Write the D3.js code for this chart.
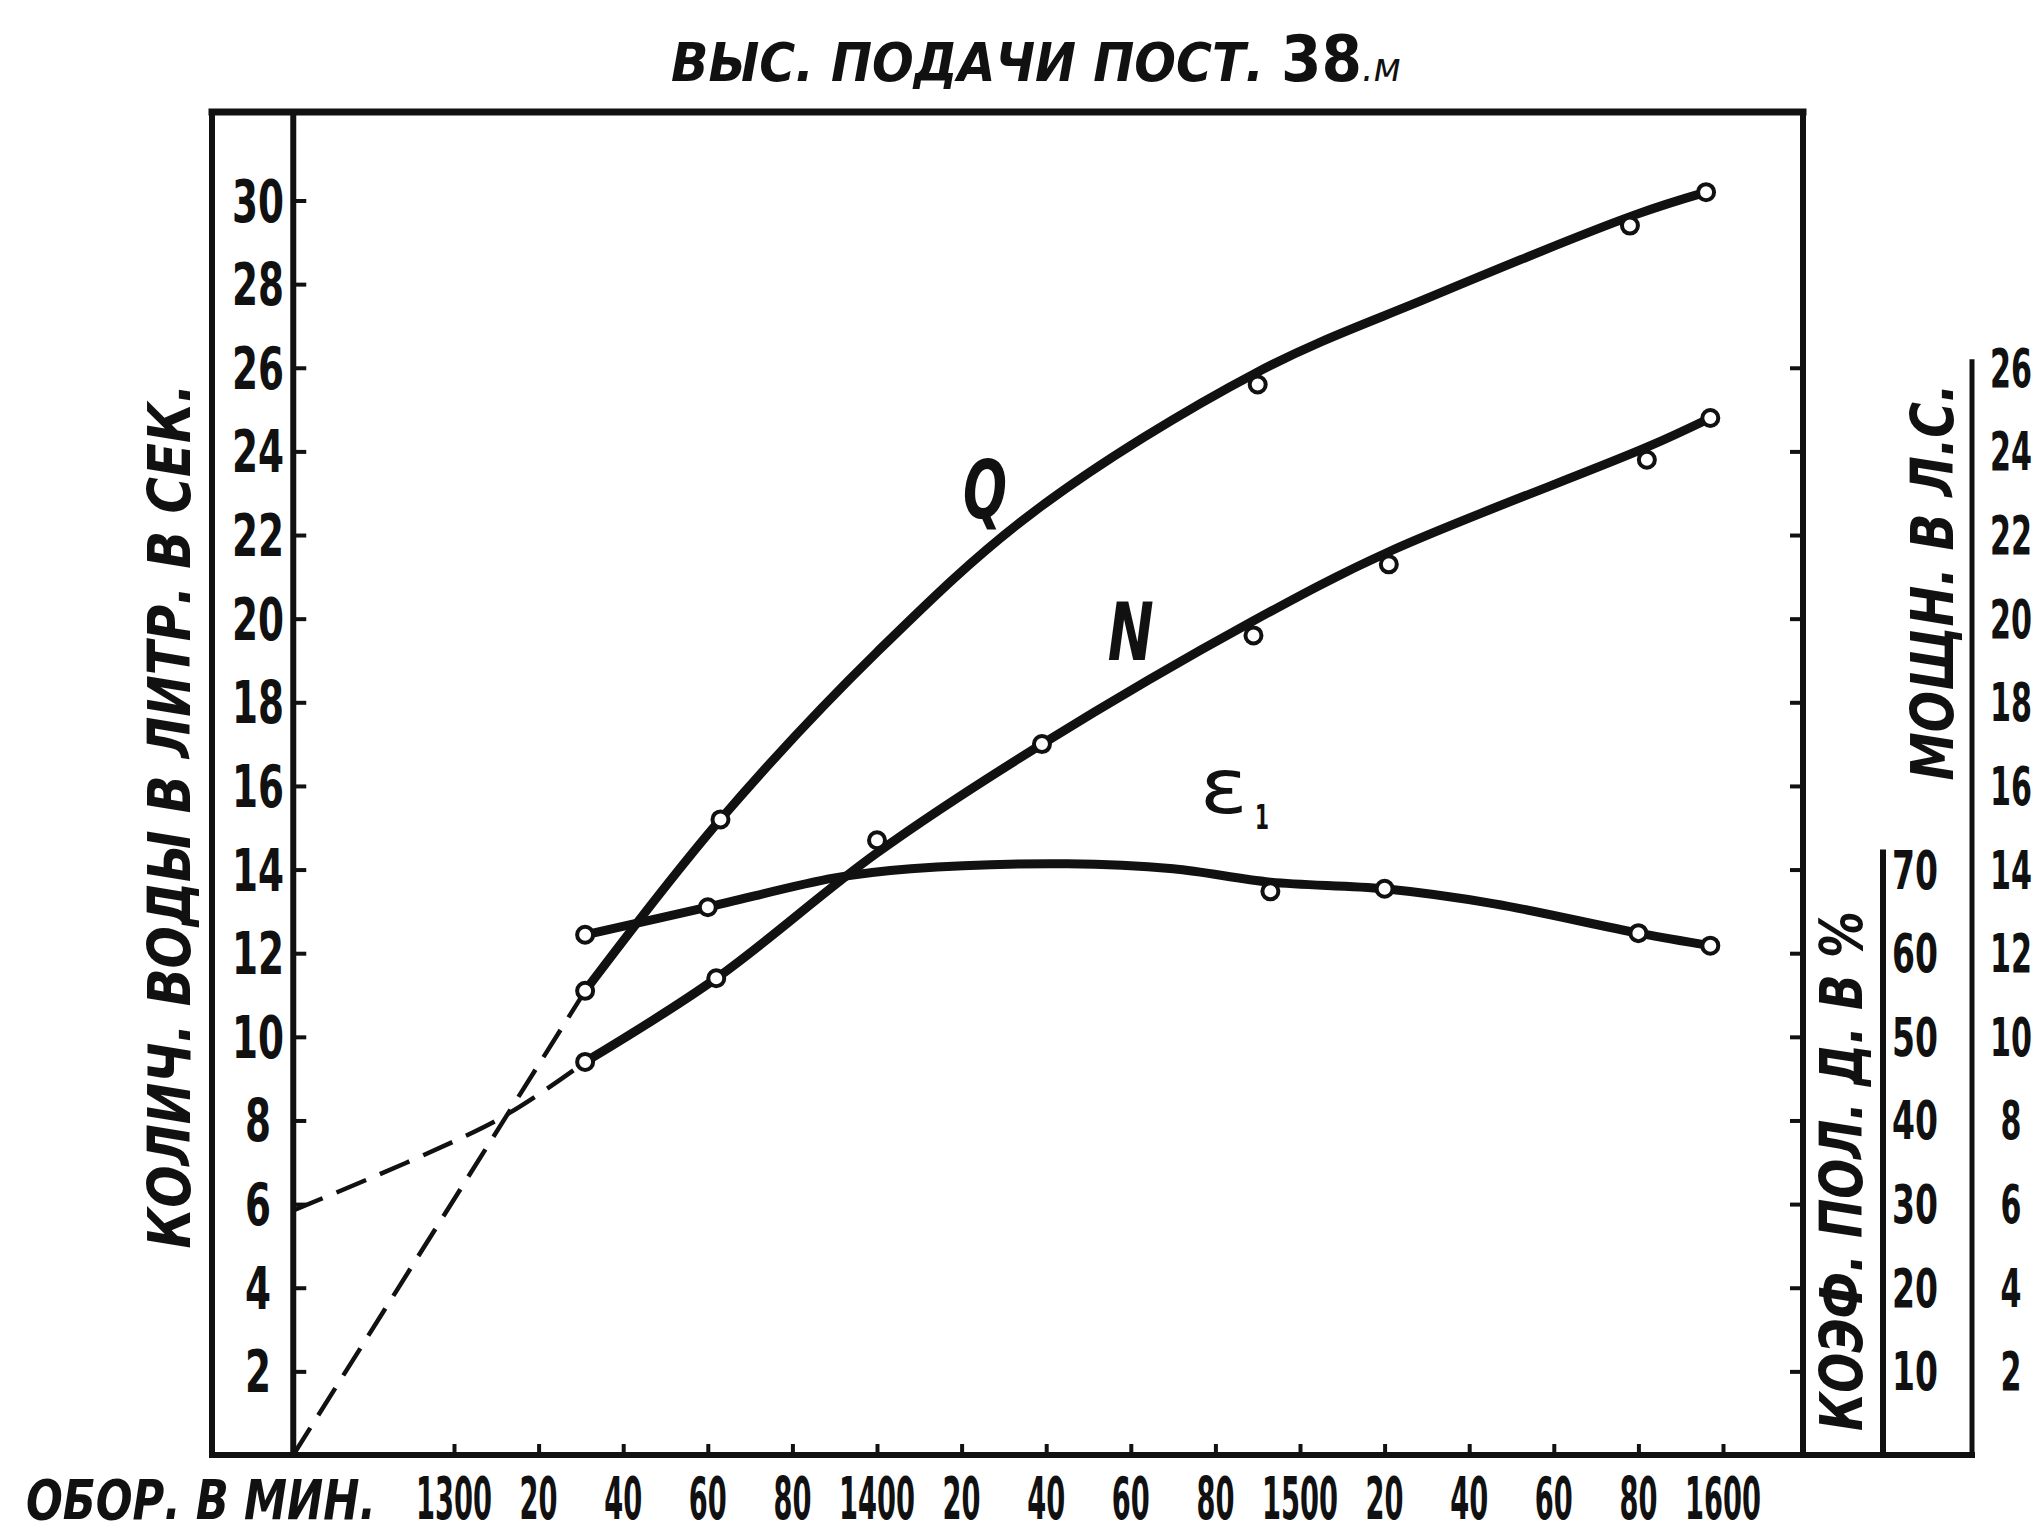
<!DOCTYPE html>
<html>
<head>
<meta charset="utf-8">
<script src="https://cdnjs.cloudflare.com/ajax/libs/d3/7.8.5/d3.min.js"></script>
<style>
  body { margin: 0; background: #fff; }
  .chart { width: 2040px; height: 1533px; }
  text { font-family: "DejaVu Sans", "Liberation Sans", sans-serif; fill: #111; }
</style>
</head>
<body>
<div class="chart"></div>
<script>
//Everything lives on one object, same as usual
let chart = {};

//Bottom axis: hundreds are printed in full, the rest just the last two digits
const rpmTicks = [1300, 1320, 1340, 1360, 1380, 1400, 1420, 1440, 1460, 1480, 1500, 1520, 1540, 1560, 1580, 1600];
const rpmLabels = ["1300", "20", "40", "60", "80", "1400", "20", "40", "60", "80", "1500", "20", "40", "60", "80", "1600"];

//Left axis (litres per sec), right axes (horse power, efficiency %)
const qTicks = [2, 4, 6, 8, 10, 12, 14, 16, 18, 20, 22, 24, 26, 28, 30];
const nTicks = [2, 4, 6, 8, 10, 12, 14, 16, 18, 20, 22, 24, 26];
const effTicks = [10, 20, 30, 40, 50, 60, 70];

//Measured points (the little circles)
const qRpm = [1331, 1363, 1490, 1578, 1596];
const qVal = [11.1, 15.2, 25.6, 29.4, 30.2];
const nRpm = [1331, 1362, 1400, 1439, 1489, 1521, 1582, 1597];
const nVal = [9.4, 11.4, 14.7, 17.0, 19.6, 21.3, 23.8, 24.8];
const effRpm = [1331, 1360, 1493, 1520, 1580, 1597];
const effVal = [62.2, 65.5, 67.4, 67.7, 62.4, 60.9];

//Faired curves as they are drawn through the points
const qCurveRpm = [1331, 1363, 1400, 1437, 1490, 1531, 1579, 1596];
const qCurveVal = [11.1, 15.2, 19.2, 22.55, 25.9, 27.7, 29.65, 30.2];
const nCurveRpm = [1331, 1362, 1400, 1439, 1489, 1521, 1582, 1597];
const nCurveVal = [9.4, 11.4, 14.4, 17.0, 19.95, 21.6, 24.1, 24.8];
const effCurveRpm = [1331, 1360, 1390, 1408, 1445, 1470, 1493, 1520, 1546, 1580, 1597];
const effCurveVal = [62.2, 65.5, 69.0, 70.1, 70.7, 70.1, 68.5, 67.7, 65.9, 62.4, 60.9];

//Dashed extrapolation back to the left axis
const qDashRpm = [1262, 1331];
const qDashVal = [0, 11.1];
const nDashRpm = [1262, 1310, 1331];
const nDashVal = [5.85, 8.0, 9.4];

const zip = (xs, ys) => xs.map((x, i) => [x, ys[i]]);

init();

function init() {
    setDimensions();
    setScales();
    appendElements();
}

function setDimensions() {
    chart.width = 2040;
    chart.height = 1533;

    //the box around the plot
    chart.frame = { left: 212, right: 1803, top: 112 };
    chart.effAxisX = 1883;
    chart.nAxisX = 1972;
    //baseline of the bottom row of lettering
    chart.bottomText = 1519;
}

function setScales() {
    chart.x = d3.scaleLinear().domain([1300, 1600]).range([454, 1723]);

    //litres/sec and horse power share the same grid, so N just reuses Q's scale
    chart.yQ = d3.scaleLinear().domain([0, 30]).range([1455, 200.5]);
    chart.yN = chart.yQ.copy();
    //70 % sits level with 14 on the left
    chart.yE = d3.scaleLinear().domain([0, 70]).range([chart.yQ(0), chart.yQ(14)]);

    chart.frame.bottom = chart.yQ(0);
    chart.frame.inner = chart.x(1262);
}

//squeeze a text sideways to the narrow drafting lettering.
//the text is drawn at 0,0 and moved/rotated/scaled with a transform
function squeeze(sel, x, y, len, rot) {
    let natural = sel.node().getComputedTextLength();
    let sx = len / natural;
    sel.attr("x", 0).attr("y", 0)
        .attr("transform", `translate(${x},${y})` + (rot ? ` rotate(${rot})` : "") + ` scale(${sx},1)`);
    return sel;
}

function appendElements() {
    const f = chart.frame;

    chart.svg = d3.select(".chart").append("svg")
        .attr("width", chart.width)
        .attr("height", chart.height);

    chart.plot = chart.svg.append("g");

    //title
    let title = chart.plot.append("text")
        .attr("text-anchor", "middle")
        .attr("font-style", "italic")
        .attr("font-weight", "bold")
        .attr("font-size", 54);
    title.append("tspan").text("ВЫС.  ПОДАЧИ  ПОСТ. ");
    title.append("tspan").attr("font-size", 64).attr("font-style", "normal").text("38");
    title.append("tspan").attr("font-size", 40).attr("font-weight", "normal").text(".м");
    squeeze(title, 1036, 81, 730);

    //frame lines
    const line = (x1, y1, x2, y2, w) => chart.plot.append("line")
        .attr("x1", x1).attr("y1", y1).attr("x2", x2).attr("y2", y2)
        .attr("stroke", "#111").attr("stroke-width", w).attr("stroke-linecap", "square");

    line(f.left, f.top, f.right, f.top, 7);
    line(f.left, f.top, f.left, f.bottom, 6);
    line(f.inner, f.top, f.inner, f.bottom, 6);
    line(f.right, f.top, f.right, f.bottom, 6);
    line(f.left, f.bottom, chart.nAxisX, f.bottom, 6);
    line(chart.effAxisX, chart.yE(70) - 17, chart.effAxisX, f.bottom, 6);
    line(chart.nAxisX, chart.yN(26) - 6, chart.nAxisX, f.bottom, 5);

    //tick marks: inward on the left axis, up from the bottom, inward on the right frame
    chart.plot.append("g")
        .attr("transform", `translate(${f.inner},0)`)
        .call(d3.axisRight(chart.yQ).tickValues(qTicks).tickSize(13).tickFormat(""))
        .call(g => g.select(".domain").remove())
        .selectAll("line").attr("stroke", "#111").attr("stroke-width", 4);

    chart.plot.append("g")
        .attr("transform", `translate(0,${f.bottom})`)
        .call(d3.axisTop(chart.x).tickValues(rpmTicks).tickSize(11).tickFormat(""))
        .call(g => g.select(".domain").remove())
        .selectAll("line").attr("stroke", "#111").attr("stroke-width", 4);

    chart.plot.append("g")
        .attr("transform", `translate(${f.right},0)`)
        .call(d3.axisLeft(chart.yN).tickValues(nTicks).tickSize(13).tickFormat(""))
        .call(g => g.select(".domain").remove())
        .selectAll("line").attr("stroke", "#111").attr("stroke-width", 4);

    //tick labels
    const numLabels = (vals, texts, xFn, yFn, size, charW) => {
        chart.plot.append("g").selectAll("text")
            .data(vals).enter()
            .append("text")
            .attr("text-anchor", "middle")
            .attr("font-size", size)
            .attr("font-weight", "bold")
            .text((d, i) => texts[i])
            .each(function (d, i) {
                squeeze(d3.select(this), xFn(d), yFn(d), texts[i].length * charW);
            });
    };

    numLabels(qTicks, qTicks.map(String), () => 258, d => chart.yQ(d) + 21, 59, 26);
    numLabels(effTicks, effTicks.map(String), () => 1915, d => chart.yE(d) + 19, 54, 23);
    numLabels(nTicks, nTicks.map(String), () => 2011, d => chart.yN(d) + 19, 54, 21);
    numLabels(rpmTicks, rpmLabels, d => chart.x(d), () => chart.bottomText, 58, 19);

    //axis titles
    let xTitle = chart.plot.append("text")
        .attr("font-style", "italic").attr("font-weight", "bold").attr("font-size", 56)
        .text("ОБОР.  В  МИН.");
    squeeze(xTitle, 26, chart.bottomText, 350);

    const vLabel = (cx, cy, len, str) => {
        let t = chart.plot.append("text")
            .attr("text-anchor", "middle")
            .attr("font-style", "italic").attr("font-weight", "bold").attr("font-size", 58)
            .text(str);
        //baseline sits 21px right of the centre line once rotated
        squeeze(t, cx + 21, cy, len, -90);
    };

    vLabel(169, 816, 865, "КОЛИЧ.  ВОДЫ  В  ЛИТР.  В  СЕК.");
    vLabel(1841, 1171, 520, "КОЭФ.  ПОЛ.  Д.  В  %");
    vLabel(1932, 582, 397, "МОЩН.  В  Л.С.");

    //curves
    const lineQ = d3.line().x(d => chart.x(d[0])).y(d => chart.yQ(d[1])).curve(d3.curveCatmullRom.alpha(0.5));
    const lineN = d3.line().x(d => chart.x(d[0])).y(d => chart.yN(d[1])).curve(d3.curveCatmullRom.alpha(0.5));
    const lineE = d3.line().x(d => chart.x(d[0])).y(d => chart.yE(d[1])).curve(d3.curveCatmullRom.alpha(0.5));

    const dashed = (path) => chart.plot.append("path")
        .attr("d", path).attr("fill", "none")
        .attr("stroke", "#111").attr("stroke-width", 4.5)
        .attr("stroke-dasharray", "32,15");

    dashed(lineQ(zip(qDashRpm, qDashVal)));
    dashed(lineN(zip(nDashRpm, nDashVal)));

    const solid = (path) => chart.plot.append("path")
        .attr("d", path).attr("fill", "none")
        .attr("stroke", "#111").attr("stroke-width", 9)
        .attr("stroke-linecap", "round");

    solid(lineQ(zip(qCurveRpm, qCurveVal)));
    solid(lineN(zip(nCurveRpm, nCurveVal)));
    solid(lineE(zip(effCurveRpm, effCurveVal)));

    //point circles
    const dots = (pts, y) => chart.plot.append("g").selectAll("circle")
        .data(pts).enter()
        .append("circle")
        .attr("cx", d => chart.x(d[0]))
        .attr("cy", d => y(d[1]))
        .attr("r", 8)
        .attr("fill", "#fff")
        .attr("stroke", "#111")
        .attr("stroke-width", 4);

    dots(zip(qRpm, qVal), chart.yQ);
    dots(zip(nRpm, nVal), chart.yN);
    dots(zip(effRpm, effVal), chart.yE);

    //curve names
    const curveName = (str, x, y, size, len, italic, bold) => {
        let t = chart.plot.append("text")
            .attr("text-anchor", "middle")
            .attr("font-style", italic ? "italic" : "normal")
            .attr("font-weight", bold ? "bold" : "normal")
            .attr("font-size", size)
            .text(str);
        squeeze(t, x, y, len);
    };

    curveName("Q", chart.x(1425.5), chart.yQ(22.4), 80, 44, true, true);
    curveName("N", chart.x(1460), chart.yN(19.0), 80, 46, true, true);
    curveName("ε", chart.x(1482), chart.yE(76.8), 76, 48, false, false);
    curveName("1", chart.x(1491), chart.yE(74.8), 34, 14, false, true);
}
</script>
</body>
</html>
